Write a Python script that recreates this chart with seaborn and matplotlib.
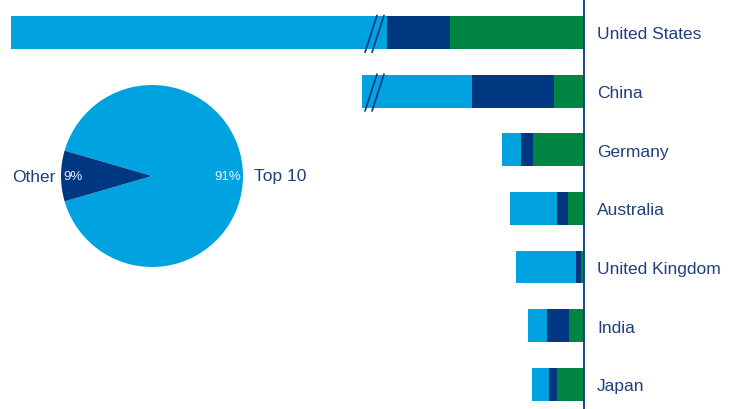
import pandas as pd
import seaborn as sns
import matplotlib.pyplot as plt

# Data (bar lengths in chart units, US and China bars are cut by a break)
countries = ["United States", "China", "Germany", "Australia",
             "United Kingdom", "India", "Japan"]
green_vals = [134, 30, 51, 16, 3, 15, 27]
navy_vals = [63, 82, 12, 11, 5, 22, 8]
light_vals = [376, 110, 19, 47, 60, 19, 17]
broken = ["United States", "China"]
break_at = 212

pie_labels = ["Top 10", "Other"]
pie_vals = [91, 9]

LIGHT = "#00A3E0"
NAVY = "#003781"
GREEN = "#008542"
TEXT = "#1F3F7F"

df = pd.DataFrame({
    "country": countries,
    "green": green_vals,
    "navy": navy_vals,
    "light": light_vals,
})
df["g_end"] = df["green"]
df["n_end"] = df["green"] + df["navy"]
df["l_end"] = df["n_end"] + df["light"]

sns.set_style("white")
plt.rcParams["font.family"] = ["Liberation Sans", "DejaVu Sans"]

fig = plt.figure(figsize=(7.3, 4.1), dpi=100)
ax = fig.add_axes([0, 0, 584 / 730, 1])

# stacked bars drawn as overlapping cumulative totals
for col, color in [("l_end", LIGHT), ("n_end", NAVY), ("g_end", GREEN)]:
    sns.barplot(data=df, x=col, y="country", orient="h", color=color,
                width=0.56, saturation=1, ax=ax, edgecolor="none")

ax.set_xlim(584, 0)
ax.set_ylim(6.42, -0.57)
ax.set_xlabel("")
ax.set_ylabel("")
ax.set_xticks([])
ax.yaxis.tick_right()
ax.tick_params(axis="y", length=0, pad=9.5, labelsize=12.5, labelcolor=TEXT)
for side in ["top", "left", "bottom"]:
    ax.spines[side].set_visible(False)
ax.spines["right"].set_color(NAVY)
ax.spines["right"].set_linewidth(1.3)

# break marks
for name in broken:
    i = countries.index(name)
    for off in [0, -7]:
        ax.plot([break_at + 7 + off, break_at - 5 + off], [i + 0.34, i - 0.29],
                color=NAVY, lw=1.2, clip_on=False)

# pie inset
pax = fig.add_axes([61 / 730, (410 - 177 - 91) / 410, 182 / 730, 182 / 410])
wedges, texts, autotexts = pax.pie(
    pie_vals, labels=pie_labels, colors=[LIGHT, NAVY], startangle=196.2,
    autopct="%d%%", pctdistance=0.85, labeldistance=1.1,
    wedgeprops={"linewidth": 0},
    textprops={"fontsize": 12.5, "color": TEXT})
texts[0].set_x(1.12)
texts[1].set_x(-1.06)
autotexts[0].set_x(0.83)
autotexts[1].set_x(-0.87)
for t in autotexts:
    t.set_color("#EEF4FA")
    t.set_fontsize(9.5)
pax.set_xlim(-1, 1)
pax.set_ylim(-1, 1)
pax.set_aspect("equal")

plt.savefig("out.png", dpi=100)
plt.close()
